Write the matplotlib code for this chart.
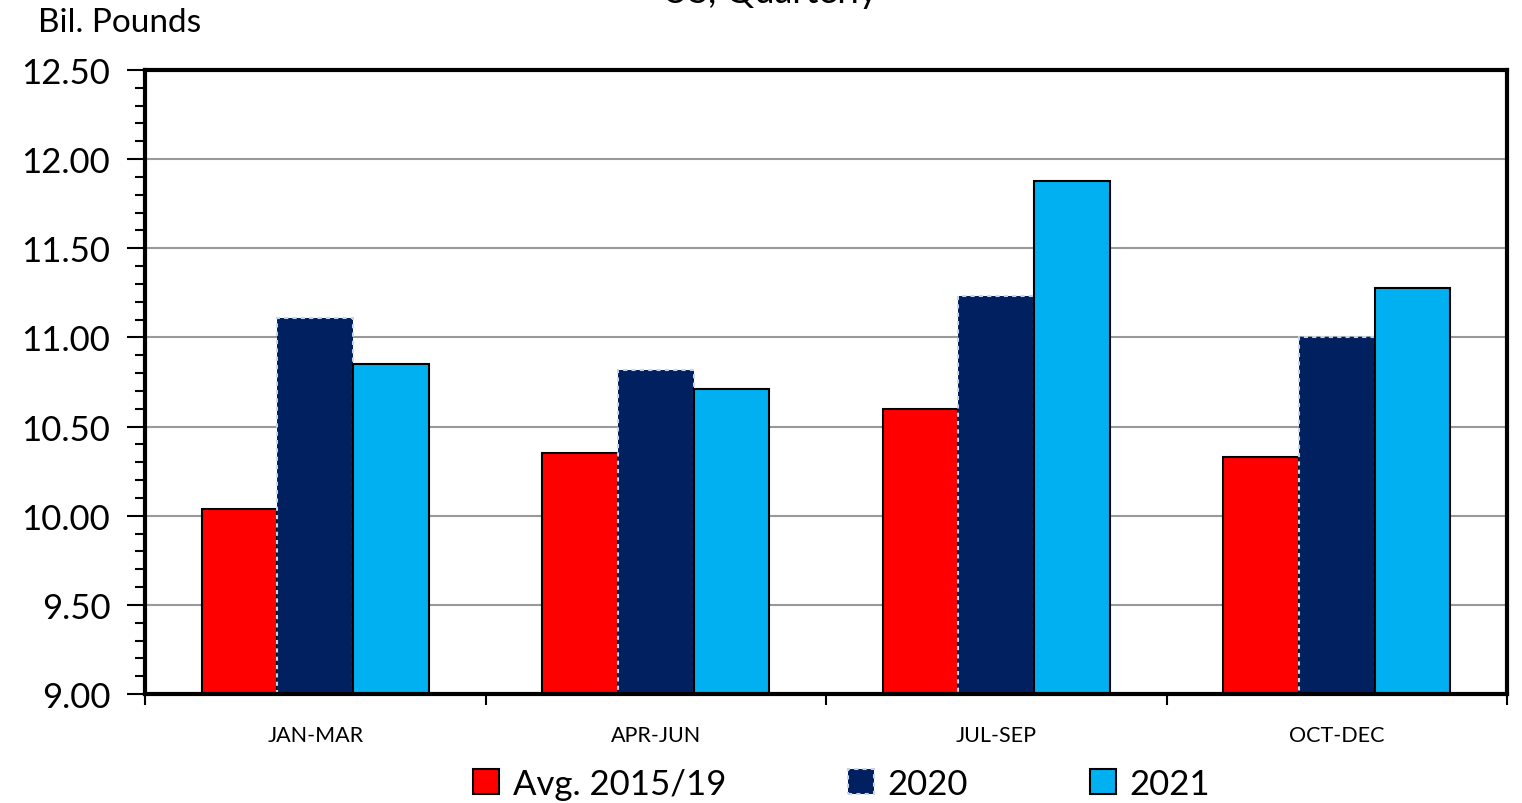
import matplotlib
matplotlib.use("Agg")
import matplotlib.pyplot as plt
import numpy as np
from matplotlib.ticker import MultipleLocator, FixedLocator

plt.rcParams['font.family'] = ['Lato', 'DejaVu Sans']

categories = ["JAN-MAR", "APR-JUN", "JUL-SEP", "OCT-DEC"]
series_names = ["Avg. 2015/19", "2020", "2021"]
avg_2015_19 = [10.04, 10.35, 10.60, 10.33]
y2020 = [11.11, 10.82, 11.23, 11.00]
y2021 = [10.85, 10.71, 11.88, 11.28]
colors = ["#FF0000", "#002060", "#00B0F0"]

fig = plt.figure(figsize=(15.22, 8.04), dpi=100)
ax = fig.add_axes([145/1522, 1-695/804, (1507-145)/1522, (695-71)/804])

x = np.arange(len(categories))
w = 0.222
vals = [avg_2015_19, y2020, y2021]
handles = []
for i, (v, c, n) in enumerate(zip(vals, colors, series_names)):
    if i == 1:
        b = ax.bar(x + (i-1)*w, np.array(v) - 9.0, w, bottom=9.0, color=c,
                   edgecolor="#C8D4EC", linestyle=(0, (2, 2)), linewidth=1.5,
                   zorder=3, label=n)
    else:
        b = ax.bar(x + (i-1)*w, np.array(v) - 9.0, w, bottom=9.0, color=c,
                   edgecolor="black", linewidth=1.5, zorder=3, label=n)
    handles.append(b)

ax.set_xlim(-0.5, 3.5)
ax.set_ylim(9.0, 12.5)
ax.yaxis.set_major_locator(MultipleLocator(0.5))
ax.yaxis.set_minor_locator(MultipleLocator(0.1))
ax.set_yticks(np.arange(9.0, 12.51, 0.5))
ax.set_yticklabels([f"{t:.2f}" for t in np.arange(9.0, 12.51, 0.5)])
ax.grid(axis='y', color='#999999', linewidth=1.5, zorder=0)

ax.set_xticks(x)
ax.set_xticklabels(categories)
ax.xaxis.set_minor_locator(FixedLocator([-0.5, 0.5, 1.5, 2.5, 3.5]))
ax.tick_params(axis='x', which='major', length=0, labelsize=15.5, pad=22, colors='black')
ax.tick_params(axis='x', which='minor', length=8, width=1.5, direction='out')
ax.tick_params(axis='y', which='major', length=13, width=1.5, direction='out', labelsize=25, pad=12)
ax.tick_params(axis='y', which='minor', length=7, width=1.5, direction='out')

for s in ax.spines.values():
    s.set_linewidth(3)
    s.set_color('black')
    s.set_zorder(5)

fig.text(38/1522, 1-23/804, "Bil. Pounds", fontsize=24, va='center', ha='left')
fig.text(0.506, 1-9/804, "US, Quarterly", fontsize=26, va='bottom', ha='center')

leg = fig.legend(handles=handles, labels=series_names, loc='center',
                 bbox_to_anchor=(0.553, 0.024), ncol=3, frameon=False,
                 fontsize=25, handlelength=0.75, handleheight=0.75,
                 handletextpad=0.4, columnspacing=3.5)

fig.savefig("out.png", dpi=100)
